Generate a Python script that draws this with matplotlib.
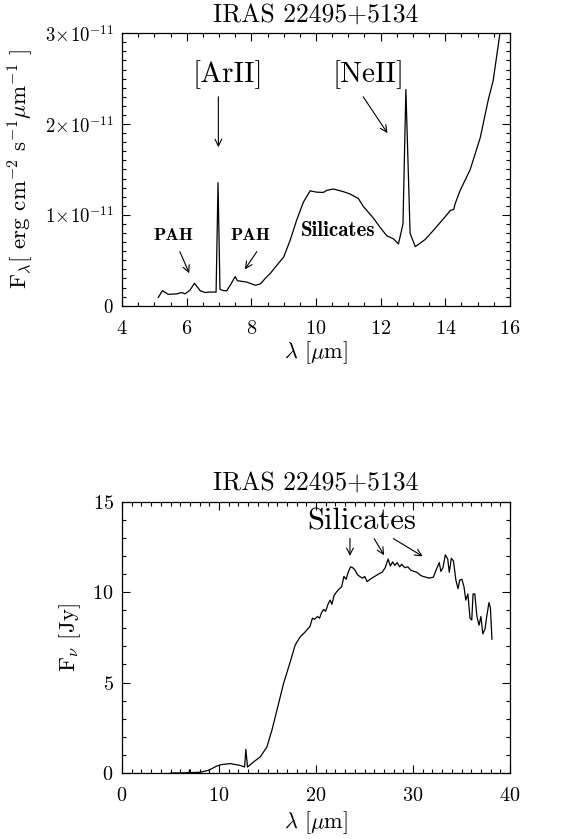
import matplotlib
matplotlib.use("Agg")
import matplotlib.pyplot as plt
import numpy as np

# ---------------- data ----------------
title = "IRAS 22495+5134"

# Top panel: F_lambda (units of 1e-11 erg cm^-2 s^-1 um^-1) vs wavelength (um)
wl_top = [5.12, 5.25, 5.43, 5.69, 5.85, 5.95, 6.10, 6.24, 6.42, 6.57, 6.68, 6.86,
          6.91, 6.97, 7.03, 7.14, 7.24, 7.38, 7.50, 7.57, 7.86, 8.12, 8.28, 8.43,
          8.59, 8.80, 9.00, 9.20, 9.40, 9.61, 9.82, 10.02, 10.23, 10.33, 10.54,
          10.85, 11.05, 11.31, 11.47, 11.78, 11.98, 12.19, 12.40, 12.55, 12.69,
          12.78, 12.91, 13.07, 13.38, 13.64, 13.95, 14.16, 14.26, 14.30, 14.46,
          14.77, 15.08, 15.33, 15.48, 15.69, 15.75]
flam_top = [0.09, 0.165, 0.125, 0.13, 0.145, 0.13, 0.17, 0.246, 0.165, 0.145, 0.15, 0.15,
            0.15, 1.355, 0.18, 0.165, 0.165, 0.246, 0.32, 0.275, 0.26, 0.225, 0.24, 0.30,
            0.357, 0.45, 0.535, 0.72, 0.94, 1.14, 1.265, 1.25, 1.247, 1.27, 1.285,
            1.255, 1.23, 1.18, 1.09, 0.962, 0.863, 0.77, 0.735, 0.68, 0.90,
            2.38, 0.797, 0.65, 0.73, 0.833, 0.96, 1.05, 1.06, 1.12, 1.27,
            1.50, 1.85, 2.27, 2.48, 3.0, 3.1]
flam_scale = 1e-11

# Bottom panel: F_nu (Jy) vs wavelength (um)
wl_bot = [4.98, 6.5, 6.9, 6.98, 7.05, 8.07, 8.93, 9.79, 10.2, 11.16, 12.19, 12.64, 12.77,
          12.94, 13.56, 14.25, 14.94, 15.45, 15.97, 16.65, 17.34, 17.85, 18.37,
          18.88, 19.2, 19.38, 19.63, 19.84, 20.16, 20.37, 20.56, 20.78, 20.99,
          21.24, 21.46, 21.64, 21.86, 22.1, 22.42, 22.64, 22.88, 23.1, 23.35,
          23.57, 23.78, 24.03, 24.28, 24.5, 24.8, 25.02, 25.27, 25.58, 26.05,
          26.51, 26.82, 27.13, 27.44, 27.66, 27.9, 28.12, 28.37, 28.62, 28.84,
          29.15, 29.46, 29.77, 30.08, 30.39, 30.7, 31.0, 31.32, 31.63, 32.1,
          32.4, 32.71, 32.87, 33.09, 33.33, 33.58, 33.74, 33.95, 34.17, 34.42,
          34.64, 34.82, 35.04, 35.26, 35.44, 35.66, 35.88, 36.06, 36.19, 36.37,
          36.59, 36.81, 37.0, 37.2, 37.43, 37.6, 37.83, 37.98, 38.14]
fnu_bot = [0.0, 0.01, 0.02, 0.17, 0.02, 0.04, 0.15, 0.39, 0.46, 0.52, 0.42, 0.33, 1.31,
           0.33, 0.61, 0.89, 1.44, 2.36, 3.47, 4.94, 6.14, 7.07, 7.53,
           7.8, 8.0, 8.1, 8.56, 8.5, 8.65, 8.56, 8.85, 9.04, 8.94,
           9.33, 9.56, 9.33, 9.81, 10.0, 10.19, 10.29, 10.87, 10.71, 11.15,
           11.4, 11.35, 11.21, 10.96, 10.87, 10.77, 10.87, 10.58, 10.71, 10.87,
           11.02, 11.1, 11.35, 11.83, 11.44, 11.67, 11.48, 11.63, 11.4, 11.54,
           11.35, 11.4, 11.21, 11.15, 11.1, 10.96, 10.87, 10.83, 10.77, 10.83,
           11.25, 11.63, 11.15, 11.35, 12.06, 11.83, 11.1, 11.87, 11.73, 10.67,
           10.19, 10.67, 10.71, 10.29, 9.56, 9.9, 8.56, 8.46, 9.9, 9.9,
           8.65, 8.17, 8.65, 7.69, 7.98, 8.65, 9.42, 9.13, 7.4]

top_xticks = [4, 6, 8, 10, 12, 14, 16]
top_yticks = [0, 1e-11, 2e-11, 3e-11]
top_yticklabels = [r"$0$", r"$1\!\times\!10^{-11}$", r"$2\!\times\!10^{-11}$", r"$3\!\times\!10^{-11}$"]
bot_xticks = [0, 10, 20, 30, 40]
bot_yticks = [0, 5, 10, 15]

# ---------------- style ----------------
plt.rcParams["font.family"] = ["cmr10", "DejaVu Serif"]
plt.rcParams["mathtext.fontset"] = "cm"
plt.rcParams["axes.formatter.use_mathtext"] = True
plt.rcParams["axes.linewidth"] = 0.9

fig = plt.figure(figsize=(5.8, 8.39), dpi=100)
W, H = 580.0, 839.0
ax1 = fig.add_axes([122 / W, 1 - 305.7 / H, 388 / W, 272.5 / H])
ax2 = fig.add_axes([122 / W, 1 - 773 / H, 388 / W, 271.3 / H])
BOLD = ["cmb10", "DejaVu Serif"]

def style(ax):
    ax.tick_params(which="both", direction="in", top=True, right=True,
                   width=0.8, labelsize=14.5)
    ax.tick_params(which="major", length=5.5)
    ax.tick_params(which="minor", length=2.7)
    ax.tick_params(axis="x", pad=10)
    ax.tick_params(axis="y", pad=6)

# ---- top panel ----
ax1.plot(wl_top, np.array(flam_top) * flam_scale, color="black", lw=0.9)
ax1.set_xlim(4, 16)
ax1.set_ylim(0, 3e-11)
ax1.set_xticks(top_xticks)
ax1.set_xticks(np.arange(4, 16.01, 0.5), minor=True)
ax1.set_yticks(top_yticks)
ax1.set_yticks(np.arange(0, 3.001e-11, 0.1e-11), minor=True)
style(ax1)
ax1.set_yticklabels(top_yticklabels, fontsize=13.5)
ax1.set_xlabel(r"$\lambda$ [$\mu$m]", fontsize=16)
ax1.xaxis.label.set_va("center")
ax1.xaxis.set_label_coords(0.5, -(353 - 305.7) / 272.5)
ax1.set_ylabel(r"F$_\lambda$[ erg cm$^{-2}$ s$^{-1}$$\mu$m$^{-1}$ ]", fontsize=16.5)
ax1.yaxis.set_label_coords(-0.222, 0.5)
ax1.text(0.5, 1 + 18 / 272.5, title, transform=ax1.transAxes, ha="center",
         va="center", fontsize=18.5)

arr = dict(arrowstyle="->", color="black", lw=0.8, shrinkA=0, shrinkB=0,
           mutation_scale=12)
ax1.text(7.28, 2.54e-11, "[ArII]", ha="center", va="center", fontsize=21)
ax1.annotate("", xy=(6.98, 1.745e-11), xytext=(6.98, 2.30e-11), arrowprops=arr)
ax1.text(11.62, 2.54e-11, "[NeII]", ha="center", va="center", fontsize=21)
ax1.annotate("", xy=(12.21, 1.90e-11), xytext=(11.46, 2.30e-11), arrowprops=arr)
ax1.text(5.59, 0.77e-11, "PAH", ha="center", va="center", fontsize=13, family=BOLD)
ax1.annotate("", xy=(6.08, 0.357e-11), xytext=(5.79, 0.595e-11), arrowprops=arr)
ax1.text(7.98, 0.77e-11, "PAH", ha="center", va="center", fontsize=13, family=BOLD)
ax1.annotate("", xy=(7.80, 0.40e-11), xytext=(8.17, 0.595e-11), arrowprops=arr)
ax1.text(10.69, 0.826e-11, "Silicates", ha="center", va="center", fontsize=15,
         family=BOLD)

# ---- bottom panel ----
ax2.plot(wl_bot, fnu_bot, color="black", lw=0.9)
ax2.set_xlim(0, 40)
ax2.set_ylim(0, 15)
ax2.set_xticks(bot_xticks)
ax2.set_xticks(np.arange(0, 40.01, 1), minor=True)
ax2.set_yticks(bot_yticks)
ax2.set_yticks(np.arange(0, 15.01, 1), minor=True)
style(ax2)
ax2.set_xlabel(r"$\lambda$ [$\mu$m]", fontsize=16)
ax2.xaxis.label.set_va("center")
ax2.xaxis.set_label_coords(0.5, -(823 - 773) / 271.3)
ax2.set_ylabel(r"F$_\nu$ [Jy]", fontsize=16.5)
ax2.yaxis.set_label_coords(-0.10, 0.5)
ax2.text(0.5, 1 + 18.7 / 271.3, title, transform=ax2.transAxes, ha="center",
         va="center", fontsize=18.5)
ax2.text(24.72, 13.89, "Silicates", ha="center", va="center", fontsize=22)
ax2.annotate("", xy=(23.5, 12.0), xytext=(23.5, 12.97), arrowprops=arr)
ax2.annotate("", xy=(27.02, 12.04), xytext=(25.99, 12.96), arrowprops=arr)
ax2.annotate("", xy=(31.0, 11.98), xytext=(27.98, 12.96), arrowprops=arr)

fig.savefig("out.png", dpi=100)
